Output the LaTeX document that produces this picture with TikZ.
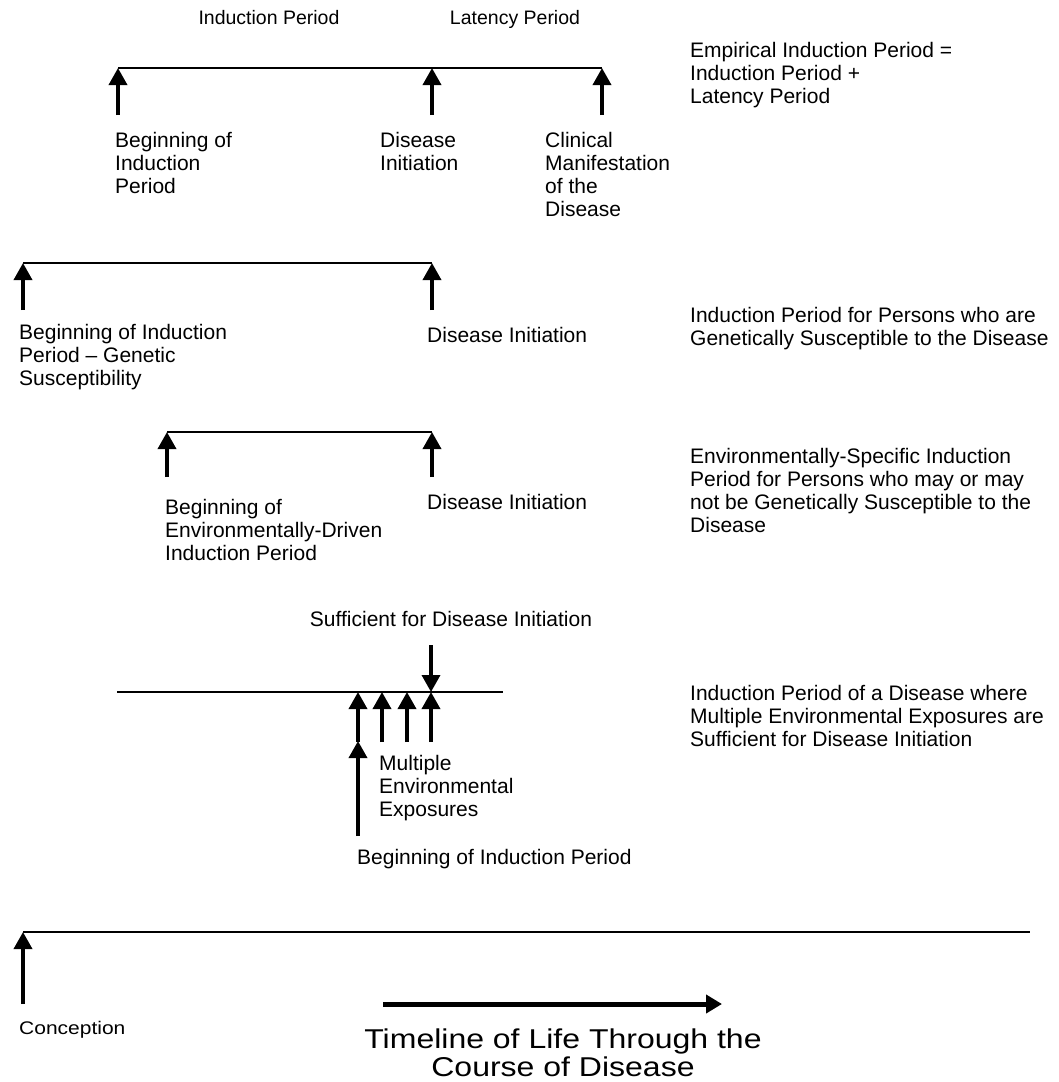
\documentclass[tikz,border=0pt]{standalone}
\usepackage{fontspec}
\setmainfont{Liberation Sans}
\usetikzlibrary{arrows.meta,positioning}
\tikzset{
    %Define standard arrow tip
    >={Triangle[width=18pt,length=17pt]},
    %Define style for labels
    txt/.style={
           anchor=north west,
           inner sep=0pt,
           align=left,
           font=\fontsize{21}{23}\selectfont},
    hd/.style={
           txt,
           anchor=base,
           font=\fontsize{19.5}{22}\selectfont},
    % Define arrow style
    pil/.style={
           ->,
           line width=3.5pt},
    bar/.style={
           line width=2pt}
}

\begin{document}
\begin{tikzpicture}[x=1pt,y=-1pt]
\useasboundingbox (0,0) rectangle (1058,1082);
% empirical induction period
\coordinate (a1) at (118,68);
\coordinate (a2) at (432,68);
\coordinate (a3) at (602,68);
\coordinate (a1b) at (118,115);
\coordinate (a2b) at (432,115);
\coordinate (a3b) at (602,115);
\node[hd] (ind) at (269,24){Induction Period};
\node[hd] (lat) at (515,24){Latency Period};
\node[txt] (beg1) at (115,132){Beginning of\\Induction\\Period};
\node[txt] (ini1) at (380,132){Disease\\Initiation};
\node[txt] (cli1) at (545,132){Clinical\\Manifestation\\of the\\Disease};
\node[txt] (emp) at (690,42){Empirical Induction Period =\\Induction Period +\\Latency Period};
\draw[bar] (a1) -- (a3);
\path[pil]
	(a1b) edge (a1)
	(a2b) edge (a2)
	(a3b) edge (a3);
% genetic susceptibility
\coordinate (b1) at (23,263);
\coordinate (b2) at (432,263);
\coordinate (b1b) at (23,310);
\coordinate (b2b) at (432,310);
\node[txt] (beg2) at (19,324){Beginning of Induction\\Period -- Genetic\\Susceptibility};
\node[txt] (ini2) at (427,327){Disease Initiation};
\node[txt] (gen) at (690,307){Induction Period for Persons who are\\Genetically Susceptible to the Disease};
\draw[bar] (b1) -- (b2);
\path[pil]
	(b1b) edge (b1)
	(b2b) edge (b2);
% environmentally driven
\coordinate (c1) at (167,432);
\coordinate (c2) at (432,432);
\coordinate (c1b) at (167,477);
\coordinate (c2b) at (432,477);
\node[txt] (beg3) at (165,499){Beginning of\\Environmentally-Driven\\Induction Period};
\node[txt] (ini3) at (427,494){Disease Initiation};
\node[txt] (env) at (690,448){Environmentally-Specific Induction\\Period for Persons who may or may\\not be Genetically Susceptible to the\\Disease};
\draw[bar] (c1) -- (c2);
\path[pil]
	(c1b) edge (c1)
	(c2b) edge (c2);
% multiple exposures
\coordinate (d0) at (117,692);
\coordinate (d5) at (503,692);
\coordinate (d1) at (358,692);
\coordinate (d2) at (382,692);
\coordinate (d3) at (407,692);
\coordinate (d4) at (431,692);
\coordinate (d1b) at (358,742);
\coordinate (d2b) at (382,742);
\coordinate (d3b) at (407,742);
\coordinate (d4b) at (431,742);
\coordinate (d4t) at (431,645);
\coordinate (d6) at (358,741);
\coordinate (d6b) at (358,836);
\node[txt, anchor=base] (suf) at (451,626){Sufficient for Disease Initiation};
\node[txt] (mul) at (379,755){Multiple\\Environmental\\Exposures};
\node[txt] (beg4) at (357,849){Beginning of Induction Period};
\node[txt] (exp) at (690,685){Induction Period of a Disease where\\Multiple Environmental Exposures are\\Sufficient for Disease Initiation};
\draw[bar] (d0) -- (d5);
\path[pil]
	(d4t) edge (d4)
	(d1b) edge (d1)
	(d2b) edge (d2)
	(d3b) edge (d3)
	(d4b) edge (d4)
	(d6b) edge (d6);
% life timeline
\coordinate (e1) at (23,932);
\coordinate (e2) at (1030,932);
\coordinate (e1b) at (23,1004);
\coordinate (f1) at (383,1004);
\coordinate (f2) at (722,1004);
\node[txt] (con) at (19,1021){\scalebox{1}[0.87]{Conception}};
\node[anchor=north, inner sep=0pt, text depth=0pt, font=\fontsize{32}{31}\selectfont] (tl) at (563,1029)
	{\scalebox{1}[0.85]{\begin{tabular}{@{}c@{}}Timeline of Life Through the\\Course of Disease\end{tabular}}};
\draw[bar] (e1) -- (e2);
\path[pil] (e1b) edge (e1);
\draw[-{Triangle[width=18pt,length=16pt]}, line width=5pt] (f1) -- (f2);
\end{tikzpicture}
\end{document}
